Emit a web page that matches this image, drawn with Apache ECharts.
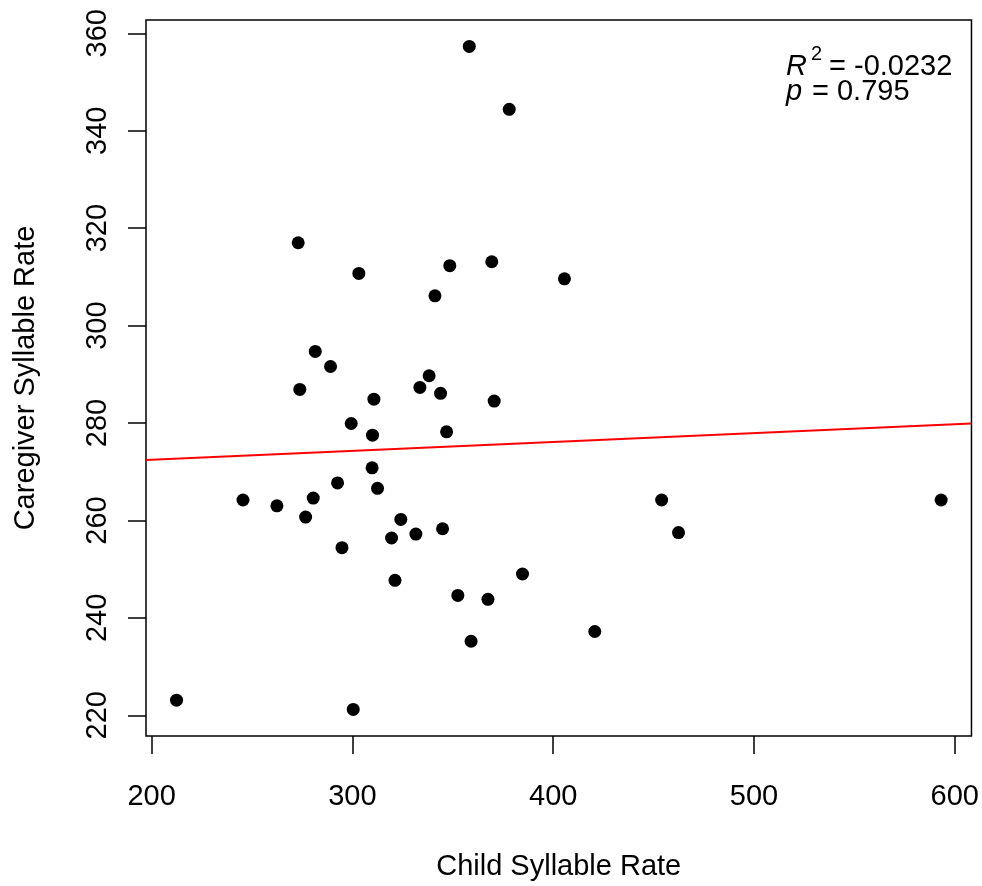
<!DOCTYPE html>
<html>
<head>
<meta charset="utf-8">
<script src="https://cdn.jsdelivr.net/npm/echarts@6/dist/echarts.min.js"></script>
<style>
  html, body { margin: 0; padding: 0; background: #fff; }
  #chart { width: 982px; height: 886px; }
</style>
</head>
<body>
<div id="chart"></div>
<script>
// Child syllable rate (x) and caregiver syllable rate (y)
const childRate = [358.2, 378.1, 273.0, 303.2, 348.5, 369.4, 405.6, 341.1, 281.5, 289.1,
  338.2, 273.8, 310.7, 333.6, 343.9, 370.6, 299.4, 310.0, 346.9, 309.8,
  292.6, 312.5, 245.5, 262.4, 280.5, 276.7, 324.1, 319.5, 331.6, 344.9,
  294.8, 321.2, 384.7, 352.5, 367.5, 359.1, 420.7, 212.4, 300.4, 454.0,
  462.4, 593.2];
const caregiverRate = [357.3, 344.4, 317.0, 310.7, 312.3, 313.1, 309.6, 306.1, 294.7, 291.6,
  289.7, 286.9, 284.9, 287.3, 286.1, 284.5, 279.9, 277.5, 278.2, 270.8,
  267.7, 266.6, 264.2, 263.0, 264.6, 260.7, 260.2, 256.4, 257.2, 258.3,
  254.4, 247.7, 249.0, 244.6, 243.8, 235.2, 237.2, 223.1, 221.2, 264.2,
  257.5, 264.2];
// Fitted line endpoints (x, y) at the plot edges
const fitX = [197.2, 608.3];
const fitY = [272.4, 279.9];
// Axis ranges and tick labels
const xRange = [197.2, 608.3];
const yRange = [215.75, 362.73];
const xTicks = [200, 300, 400, 500, 600];
const yTicks = [220, 240, 260, 280, 300, 320, 340, 360];
const r2Text = '-0.0232';
const pText = '0.795';

const points = childRate.map((x, i) => [x, caregiverRate[i]]);
const fitLine = fitX.map((x, i) => [x, fitY[i]]);

const FONT = 'Liberation Sans, Arial, sans-serif';
const FS = 29;
const chart = echarts.init(document.getElementById('chart'), null, { renderer: 'canvas' });
chart.setOption({
  animation: false,
  backgroundColor: '#ffffff',
  grid: {
    left: 146, right: 10, top: 20, bottom: 150,
    show: true, borderColor: '#000', borderWidth: 1.5, backgroundColor: 'transparent'
  },
  xAxis: {
    type: 'value', min: xRange[0], max: xRange[1],
    name: 'Child Syllable Rate', nameLocation: 'middle', nameGap: 116,
    nameTextStyle: { fontFamily: FONT, fontSize: FS, color: '#000' },
    axisLine: { show: false },
    splitLine: { show: false },
    axisTick: { show: true, customValues: xTicks, length: 18, lineStyle: { color: '#000', width: 1.5 } },
    axisLabel: { customValues: xTicks, fontFamily: FONT, fontSize: FS, color: '#000', margin: 46 }
  },
  yAxis: {
    type: 'value', min: yRange[0], max: yRange[1],
    name: 'Caregiver Syllable Rate', nameLocation: 'middle', nameGap: 106,
    nameTextStyle: { fontFamily: FONT, fontSize: FS, color: '#000' },
    axisLine: { show: false },
    splitLine: { show: false },
    axisTick: { show: true, customValues: yTicks, length: 18, lineStyle: { color: '#000', width: 1.5 } },
    axisLabel: { customValues: yTicks, rotate: 90, fontFamily: FONT, fontSize: FS, color: '#000', margin: 34 }
  },
  series: [
    {
      type: 'line', data: fitLine, symbol: 'none', silent: true,
      lineStyle: { color: '#ff0000', width: 2 }, z: 1
    },
    {
      type: 'scatter', data: points, symbol: 'circle', symbolSize: 13,
      itemStyle: { color: '#000', opacity: 1 }, z: 2
    }
  ],
  graphic: [
    { type: 'text', left: 786, top: 52,
      style: { text: 'R', fontFamily: FONT, fontSize: FS, fontStyle: 'italic', lineHeight: 27, fill: '#000' } },
    { type: 'text', left: 811, top: 44,
      style: { text: '2', fontFamily: FONT, fontSize: 20, lineHeight: 20, fill: '#000' } },
    { type: 'text', left: 829, top: 52,
      style: { text: '= ' + r2Text, fontFamily: FONT, fontSize: FS, lineHeight: 27, fill: '#000' } },
    { type: 'text', left: 786, top: 77,
      style: { text: 'p', fontFamily: FONT, fontSize: FS, fontStyle: 'italic', lineHeight: 27, fill: '#000' } },
    { type: 'text', left: 812, top: 77,
      style: { text: '= ' + pText, fontFamily: FONT, fontSize: FS, lineHeight: 27, fill: '#000' } }
  ]
});
</script>
</body>
</html>
